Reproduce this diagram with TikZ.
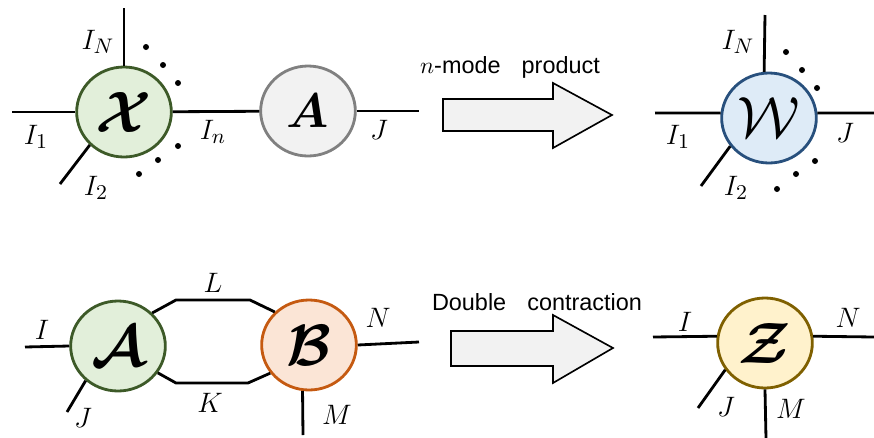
\documentclass[tikz,border=0pt]{standalone}
\usepackage{amsmath, amssymb, bm}
\usepackage{fontspec}
\newfontfamily\arialfont{Liberation Sans}
\usetikzlibrary{shapes.geometric, arrows.meta, positioning, calc}
\definecolor{xgreen}{RGB}{61, 90, 40}
\definecolor{xgreenfill}{RGB}{226, 239, 218}
\definecolor{agray}{RGB}{128, 128, 128}
\definecolor{agrayfill}{RGB}{242, 242, 242}
\definecolor{wblue}{RGB}{40, 80, 125}
\definecolor{wbluefill}{RGB}{222, 235, 247}
\definecolor{borange}{RGB}{197, 90, 17}
\definecolor{borangefill}{RGB}{251, 229, 214}
\definecolor{zgold}{RGB}{127, 96, 0}
\definecolor{zgoldfill}{RGB}{255, 242, 204}
\tikzset{
    tensor/.style={ellipse, draw, line width=1.2pt, minimum width=1.42cm, minimum height=1.35cm, inner sep=0pt},
    xtensor/.style={tensor, fill=xgreenfill, draw=xgreen, font=\Huge},
    atensor/.style={tensor, fill=agrayfill, draw=agray, font=\huge},
    wtensor/.style={tensor, fill=wbluefill, draw=wblue, font=\fontsize{27}{30}\selectfont},
    btensor/.style={tensor, fill=borangefill, draw=borange, font=\Huge},
    ztensor/.style={tensor, fill=zgoldfill, draw=zgold, font=\Huge},
    leg/.style={line width=1.2pt},
    legname/.style={font=\fontsize{13}{15}\selectfont},
    bigarrow/.style={draw, fill=agrayfill, line width=0.7pt},
    oplabel/.style={font=\arialfont},
}

\begin{document}
\begin{tikzpicture}[x=0.015cm, y=-0.015cm]
    \useasboundingbox (0,0) rectangle (874,438);

    % n-mode product, left side
    \node[xtensor] (xtens) at (124,112) {$\bm{\mathcal{X}}$};
    \node[atensor] (amat) at (308,111) {$\bm{A}$};
    \coordinate (xN) at (124,8);
    \coordinate (x1) at (12,112);
    \coordinate (x2) at (60,184);
    \coordinate (aJ) at (419,111);
    \draw[leg] (xtens.north) -- (xN);
    \draw[leg] (xtens.west) -- (x1);
    \draw[leg] (xtens.224) -- (x2);
    \draw[leg] (xtens) -- (amat);
    \draw[leg] (amat.east) -- (aJ);
    \node[legname] (lxN) at (98,42) {$I_N$};
    \node[legname] (lx1) at (36,137) {$I_1$};
    \node[legname] (lx2) at (96,188) {$I_2$};
    \node[legname] (lxn) at (213,132) {$I_n$};
    \node[legname] (laJ) at (379,130) {$J$};
    \foreach \px/\py in {146/47, 163/65, 178/83, 178/146, 158/160, 139/174}
        \fill (\px,\py) circle[radius=0.045cm];

    % n-mode product arrow
    \draw[bigarrow] (443,99) -- (553,99) -- (553,83) -- (612,115) -- (553,148) -- (553,131) -- (443,131) -- cycle;
    \node[oplabel] (nmode) at (510,67) {$n$-mode\hspace{9pt}product};

    % n-mode product, result
    \node[wtensor] (wtens) at (769,118) {$\mathcal{W}$};
    \coordinate (wN) at (765,15);
    \coordinate (w1) at (655,113);
    \coordinate (w2) at (701,186);
    \coordinate (wJ) at (874,113);
    \draw[leg] (wtens.96) -- (wN);
    \draw[leg] (wtens.174) -- (w1);
    \draw[leg] (wtens.216) -- (w2);
    \draw[leg] (wtens.6) -- (wJ);
    \node[legname] (lwN) at (738,42) {$I_N$};
    \node[legname] (lw1) at (678,137) {$I_1$};
    \node[legname] (lw2) at (736,188) {$I_2$};
    \node[legname] (lwJ) at (845,133) {$J$};
    \foreach \px/\py in {786/52, 802/70, 817/88, 815/161, 796/174, 777/189}
        \fill (\px,\py) circle[radius=0.045cm];

    % Double contraction, left side
    \node[xtensor] (atens) at (118,346) {$\bm{\mathcal{A}}$};
    \node[btensor] (btens) at (309,345) {$\bm{\mathcal{B}}$};
    \coordinate (aI) at (25,347);
    \coordinate (aJJ) at (67,412);
    \coordinate (l1) at (176,300);
    \coordinate (l2) at (250,300);
    \coordinate (k1) at (176,383);
    \coordinate (k2) at (248,383);
    \coordinate (bN) at (419,342);
    \coordinate (bM) at (303,435);
    \draw[leg] (atens.west) -- (aI);
    \draw[leg] (atens.227) -- (aJJ);
    \draw[leg] (atens.44) -- (l1) -- (l2) -- (btens.136);
    \draw[leg] (atens.326) -- (k1) -- (k2) -- (btens.216);
    \draw[leg] (btens.east) -- (bN);
    \draw[leg] (btens.262) -- (bM);
    \node[legname] (laI) at (42,330) {$I$};
    \node[legname] (laJJ) at (83,418) {$J$};
    \node[legname] (lL) at (213,283) {$L$};
    \node[legname] (lK) at (210,403) {$K$};
    \node[legname] (lbN) at (378,318) {$N$};
    \node[legname] (lbM) at (337,415) {$M$};

    % Double contraction arrow
    \draw[bigarrow] (451,331) -- (553,331) -- (553,315) -- (613,348) -- (553,383) -- (553,366) -- (451,366) -- cycle;
    \node[oplabel] (dcontr) at (537,302) {Double\hspace{9pt}contraction};

    % Double contraction, result
    \node[ztensor] (ztens) at (765,343) {$\bm{\mathcal{Z}}$};
    \coordinate (zI) at (653,337);
    \coordinate (zN) at (874,337);
    \coordinate (zJ) at (698,408);
    \coordinate (zM) at (766,438);
    \draw[leg] (ztens.172) -- (zI);
    \draw[leg] (ztens.8) -- (zN);
    \draw[leg] (ztens.214) -- (zJ);
    \draw[leg] (ztens.south) -- (zM);
    \node[legname] (lzI) at (685,322) {$I$};
    \node[legname] (lzN) at (848,318) {$N$};
    \node[legname] (lzJ) at (726,407) {$J$};
    \node[legname] (lzM) at (791,409) {$M$};
\end{tikzpicture}
\end{document}
